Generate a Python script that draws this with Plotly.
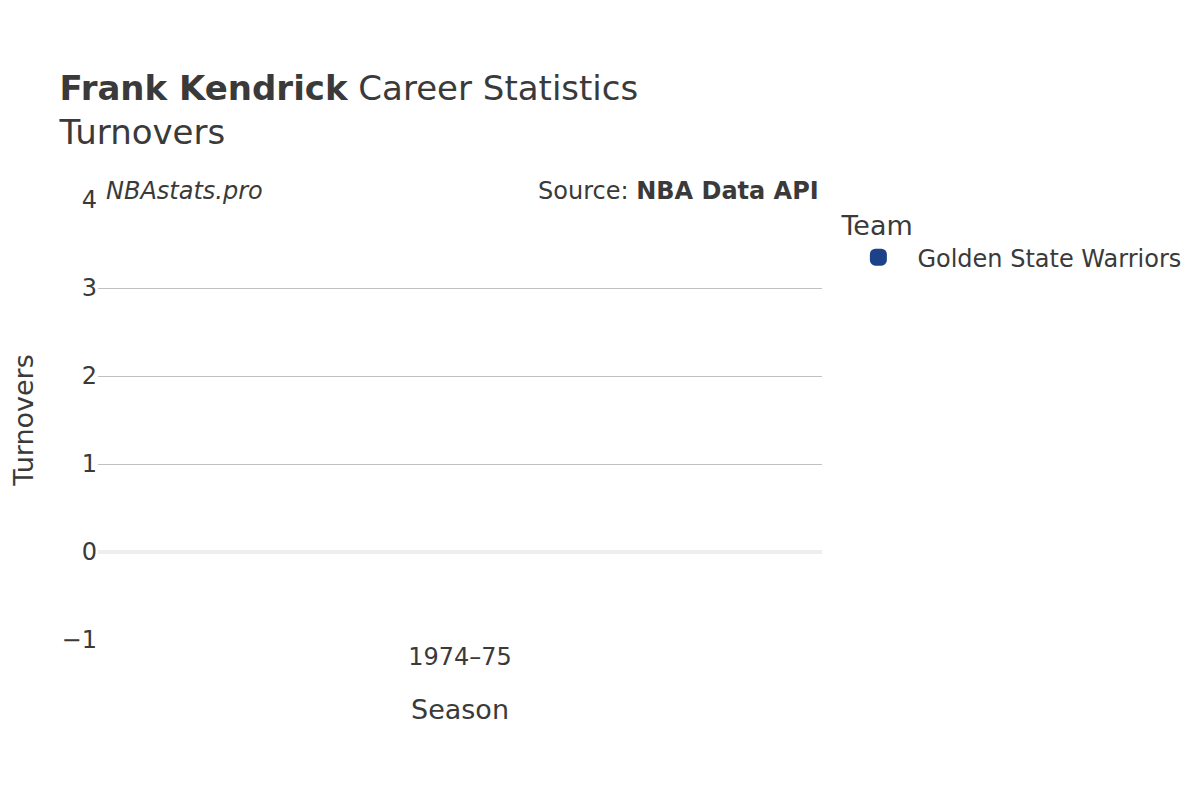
import plotly.graph_objects as go

seasons = ["1974–75"]
turnovers = [None]  # turnovers were not tracked that season
team = "Golden State Warriors"
team_color = "#1D428A"

fig = go.Figure()
fig.add_trace(go.Bar(
    x=seasons, y=turnovers, name=team, showlegend=True,
    marker=dict(color=team_color, cornerradius=5,
                line=dict(color=team_color, width=5))))

fig.update_layout(
    width=1200, height=800,
    font=dict(family="DejaVu Sans", color="#3a3a3a", size=24),
    title=dict(text="<b>Frank Kendrick</b> Career Statistics<br>Turnovers",
               x=0.043, xanchor="left", y=0.885, yanchor="top",
               font=dict(size=34)),
    plot_bgcolor="white", paper_bgcolor="white",
    margin=dict(l=90, r=386, t=192, b=168, autoexpand=False),
    legend=dict(title=dict(text="Team", font=dict(size=27)),
                font=dict(size=24), x=1.024, y=1, yanchor="top",
                itemwidth=68),
    xaxis=dict(title=dict(text="Season", font=dict(size=27), standoff=30),
               showgrid=False, automargin=False),
    yaxis=dict(title=dict(text="Turnovers", font=dict(size=27), standoff=30),
               range=[-1, 4], dtick=1, gridcolor="#c0c0c0", automargin=False,
               zeroline=True, zerolinecolor="#eeeeee", zerolinewidth=4),
    annotations=[
        dict(text="<i>NBAstats.pro</i>", xref="paper", yref="paper",
             x=0.008, y=1.02, xanchor="left", yanchor="middle",
             showarrow=False, font=dict(size=24)),
        dict(text="Source: <b>NBA Data API</b>", xref="paper", yref="paper",
             x=0.999, y=1.02, xanchor="right", yanchor="middle",
             showarrow=False, font=dict(size=24)),
    ],
)

fig.write_html("out.html")
